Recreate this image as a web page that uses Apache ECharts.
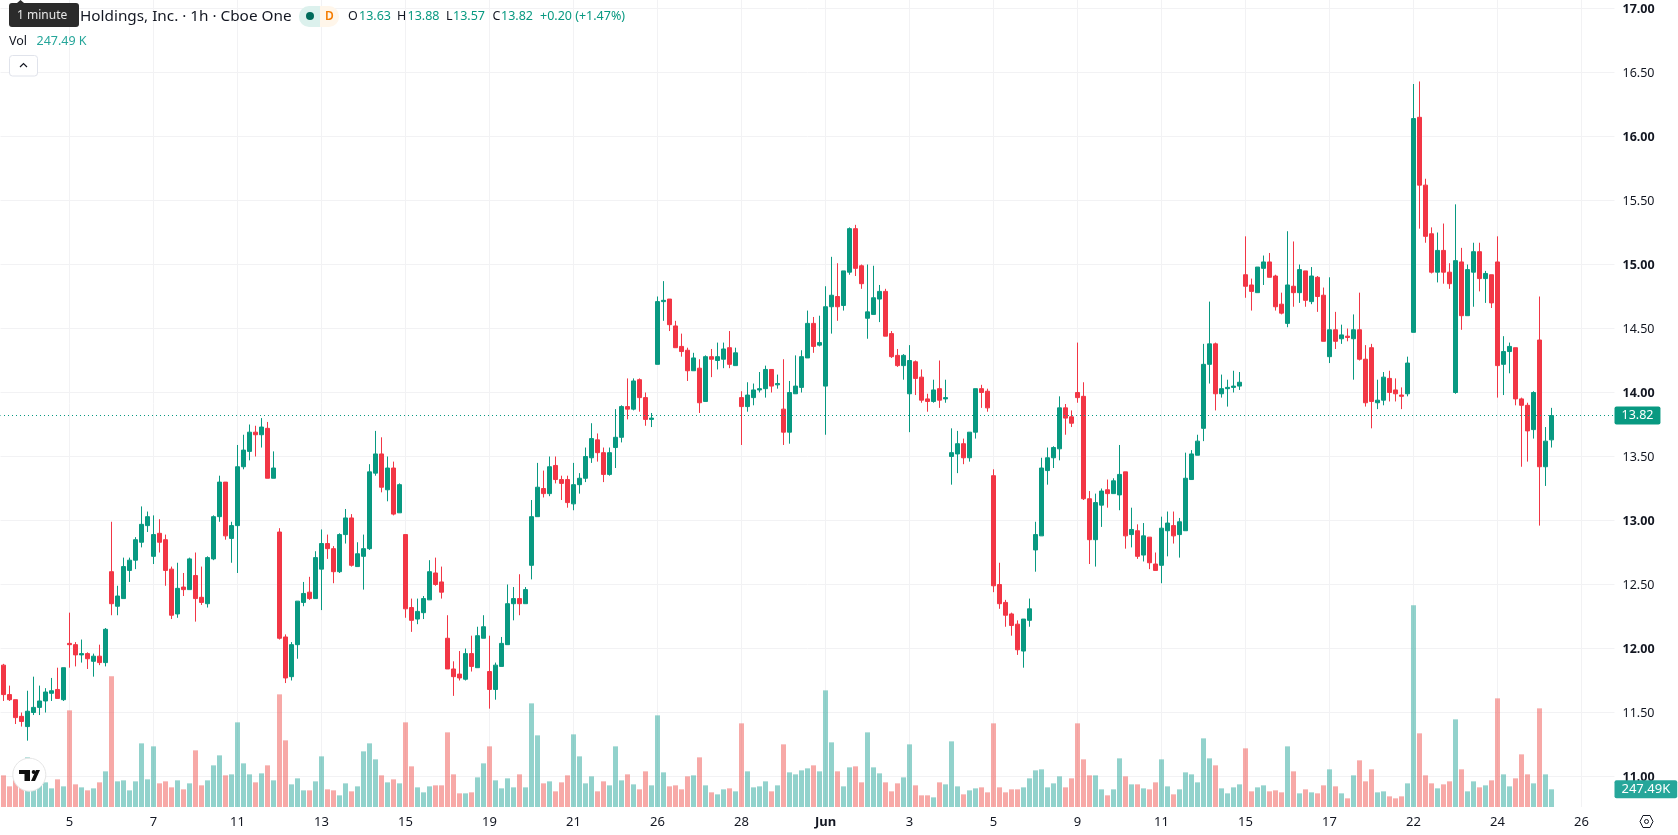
<!DOCTYPE html>
<html>
<head>
<meta charset="utf-8">
<title>Holdings, Inc. 1h</title>
<style>
  html, body { margin: 0; padding: 0; background: #fff; }
  #chart { width: 1678px; height: 835px; }
</style>
<script src="https://cdn.jsdelivr.net/npm/echarts@6/dist/echarts.min.js"></script>
</head>
<body>
<div id="chart"></div>
<script>
// Hourly bars: [open, close, low, high]
const candles = [
[11.87,11.64,11.59,11.88],[11.64,11.60,11.59,11.71],[11.60,11.46,11.41,11.60],[11.47,11.43,11.39,11.50],[11.39,11.51,11.28,11.67],
[11.50,11.54,11.48,11.78],[11.54,11.59,11.48,11.71],[11.59,11.66,11.50,11.69],[11.65,11.67,11.59,11.77],[11.68,11.61,11.61,11.85],
[11.60,11.85,11.59,11.85],[12.04,12.03,11.85,12.28],[12.03,11.95,11.86,12.05],[11.95,11.96,11.89,12.07],[11.96,11.92,11.84,11.97],
[11.90,11.94,11.78,11.96],[11.94,11.89,11.87,12.03],[11.89,12.15,11.86,12.16],[12.60,12.35,12.26,12.99],[12.33,12.41,12.26,12.49],
[12.39,12.64,12.39,12.71],[12.61,12.69,12.52,12.71],[12.69,12.85,12.62,12.87],[12.83,12.97,12.79,13.11],[12.96,13.03,12.91,13.07],
[12.72,12.89,12.66,13.04],[12.90,12.83,12.75,13.01],[12.85,12.61,12.49,12.89],[12.62,12.26,12.23,12.64],[12.27,12.47,12.24,12.67],
[12.48,12.46,12.41,12.59],[12.46,12.70,12.46,12.71],[12.57,12.39,12.21,12.75],[12.40,12.36,12.34,12.64],[12.35,12.71,12.32,12.72],
[12.70,13.03,12.69,13.04],[13.03,13.30,12.99,13.35],[13.30,12.88,12.85,13.30],[12.86,12.96,12.67,12.99],[12.96,13.42,12.59,13.59],
[13.42,13.55,13.40,13.67],[13.54,13.69,13.47,13.75],[13.69,13.67,13.50,13.74],[13.67,13.73,13.57,13.80],[13.72,13.33,13.33,13.77],
[13.33,13.41,13.33,13.54],[12.91,12.08,12.07,12.94],[12.09,11.77,11.73,12.11],[11.78,12.03,11.75,12.05],[12.03,12.37,11.92,12.37],
[12.36,12.43,12.33,12.52],[12.44,12.39,12.38,12.56],[12.39,12.71,12.39,12.76],[12.62,12.82,12.30,12.93],[12.82,12.78,12.70,12.89],
[12.78,12.60,12.51,12.80],[12.60,12.89,12.59,12.90],[12.89,13.02,12.82,13.09],[13.02,12.65,12.64,13.05],[12.64,12.74,12.64,12.83],
[12.72,12.78,12.46,12.89],[12.78,13.38,12.77,13.44],[13.37,13.52,13.35,13.70],[13.52,13.26,13.22,13.65],[13.24,13.41,13.15,13.50],
[13.41,13.05,13.04,13.46],[13.06,13.28,13.06,13.29],[12.89,12.31,12.24,12.89],[12.32,12.22,12.13,12.39],[12.23,12.29,12.19,12.39],
[12.28,12.39,12.23,12.41],[12.38,12.60,12.38,12.69],[12.59,12.50,12.49,12.71],[12.52,12.44,12.39,12.64],[12.08,11.84,11.84,12.26],
[11.84,11.78,11.63,11.90],[11.80,11.77,11.75,11.98],[11.76,11.96,11.75,12.00],[11.96,11.86,11.82,12.10],[11.85,12.10,11.85,12.17],
[12.08,12.17,12.08,12.26],[11.82,11.68,11.53,12.10],[11.68,11.87,11.60,11.89],[11.86,12.04,11.86,12.09],[12.03,12.35,12.03,12.50],
[12.35,12.39,12.22,12.48],[12.39,12.35,12.26,12.58],[12.35,12.46,12.35,12.48],[12.65,13.03,12.54,13.16],[13.03,13.26,13.03,13.45],
[13.25,13.21,13.18,13.39],[13.21,13.42,13.19,13.50],[13.43,13.32,13.29,13.50],[13.32,13.29,13.16,13.35],[13.32,13.14,13.10,13.35],
[13.13,13.28,13.08,13.45],[13.28,13.33,13.21,13.37],[13.33,13.50,13.30,13.57],[13.49,13.64,13.45,13.76],[13.63,13.53,13.46,13.68],
[13.53,13.36,13.30,13.57],[13.36,13.53,13.35,13.57],[13.57,13.65,13.41,13.87],[13.65,13.89,13.61,13.90],[13.89,13.87,13.79,14.11],
[13.87,14.09,13.86,14.11],[14.10,13.96,13.85,14.11],[13.96,13.79,13.74,14.00],[13.79,13.80,13.73,13.84],[14.22,14.71,14.22,14.75],
[14.71,14.72,14.56,14.87],[14.73,14.53,14.48,14.73],[14.52,14.35,14.35,14.56],[14.36,14.32,14.28,14.46],[14.33,14.17,14.09,14.35],
[14.17,14.27,14.17,14.31],[14.19,13.92,13.84,14.26],[13.93,14.28,13.93,14.29],[14.28,14.26,14.12,14.34],[14.25,14.28,14.18,14.39],
[14.26,14.34,14.19,14.39],[14.35,14.22,14.19,14.48],[14.21,14.31,14.21,14.35],[13.96,13.89,13.59,14.01],[13.89,13.98,13.85,14.08],
[13.96,14.02,13.90,14.07],[14.02,14.03,14.00,14.16],[14.03,14.18,13.96,14.21],[14.18,14.05,14.00,14.18],[14.06,14.07,14.03,14.14],
[13.87,13.69,13.59,14.26],[13.69,14.00,13.60,14.09],[13.99,14.05,13.99,14.29],[14.04,14.28,14.00,14.33],[14.27,14.54,14.27,14.64],
[14.54,14.36,14.31,14.59],[14.37,14.39,14.36,14.60],[14.05,14.67,13.67,14.83],[14.67,14.76,14.46,15.06],[14.75,14.67,14.56,15.01],
[14.68,14.95,14.64,14.95],[14.94,15.28,14.92,15.29],[15.28,14.97,14.91,15.31],[14.99,14.85,14.81,15.00],[14.58,14.63,14.42,15.00],
[14.61,14.74,14.61,14.99],[14.73,14.79,14.55,14.84],[14.79,14.44,14.44,14.81],[14.46,14.28,14.27,14.48],[14.29,14.21,14.20,14.34],
[14.21,14.29,14.10,14.30],[13.99,14.25,13.69,14.37],[14.24,14.11,13.98,14.25],[14.12,13.94,13.92,14.18],[13.95,13.93,13.85,13.99],
[13.93,14.02,13.92,14.10],[14.03,13.94,13.88,14.25],[13.95,13.96,13.92,14.10],[13.50,13.53,13.28,13.72],[13.52,13.60,13.37,13.70],
[13.60,13.49,13.44,13.64],[13.49,13.69,13.46,13.69],[13.69,14.03,13.64,14.03],[14.03,14.00,13.88,14.06],[14.01,13.88,13.85,14.03],
[13.35,12.49,12.44,13.40],[12.50,12.35,12.31,12.67],[12.36,12.26,12.17,12.38],[12.27,12.18,12.10,12.28],[12.19,11.99,11.95,12.22],
[11.98,12.23,11.85,12.23],[12.22,12.31,12.17,12.39],[12.77,12.89,12.60,12.99],[12.88,13.41,12.88,13.49],[13.39,13.49,13.28,13.57],
[13.49,13.57,13.41,13.58],[13.56,13.88,13.47,13.97],[13.88,13.80,13.67,13.91],[13.81,13.76,13.73,13.86],[14.00,13.96,13.92,14.39],
[13.97,13.17,13.16,14.08],[13.17,12.85,12.66,13.23],[12.85,13.14,12.64,13.21],[13.12,13.23,12.95,13.25],[13.24,13.21,13.10,13.32],
[13.21,13.31,13.21,13.33],[13.20,13.36,13.08,13.59],[13.38,12.88,12.78,13.38],[12.89,12.93,12.79,13.10],[12.92,12.72,12.70,12.97],
[12.73,12.88,12.68,12.98],[12.87,12.67,12.62,12.87],[12.66,12.61,12.61,12.75],[12.65,12.94,12.51,13.03],[12.92,12.98,12.72,13.07],
[12.96,12.88,12.82,13.07],[12.89,12.99,12.71,13.02],[12.92,13.33,12.92,13.53],[13.32,13.52,13.32,13.55],[13.51,13.62,13.51,13.67],
[13.72,14.22,13.62,14.38],[14.22,14.38,14.07,14.71],[14.38,13.99,13.86,14.39],[13.99,14.03,13.96,14.14],[14.03,14.04,13.89,14.10],
[14.04,14.05,14.00,14.17],[14.05,14.08,14.02,14.16],[14.92,14.83,14.74,15.22],[14.84,14.79,14.64,14.89],[14.78,14.98,14.78,14.98],
[14.97,15.02,14.84,15.07],[15.02,14.90,14.90,15.09],[14.91,14.67,14.64,14.92],[14.69,14.62,14.61,14.78],[14.54,14.84,14.51,15.26],
[14.83,14.78,14.67,15.18],[14.78,14.96,14.70,15.00],[14.95,14.72,14.67,14.95],[14.71,14.91,14.69,14.98],[14.90,14.75,14.63,14.91],
[14.76,14.40,14.40,14.82],[14.28,14.49,14.23,14.90],[14.49,14.40,14.34,14.63],[14.42,14.45,14.38,14.53],[14.44,14.43,14.40,14.50],
[14.42,14.49,14.10,14.61],[14.49,14.26,14.25,14.78],[14.26,13.92,13.89,14.37],[14.35,13.93,13.72,14.38],[13.92,13.94,13.87,14.10],
[13.94,14.12,13.90,14.16],[14.11,14.00,13.93,14.17],[14.02,13.99,13.93,14.11],[13.98,13.97,13.87,14.04],[13.99,14.23,13.97,14.28],
[14.47,16.14,14.47,16.41],[16.15,15.62,15.28,16.43],[15.62,15.22,15.17,15.67],[15.24,14.94,14.93,15.29],[14.94,15.11,14.86,15.25],
[15.11,14.94,14.85,15.32],[14.94,14.85,14.81,15.01],[14.00,15.03,13.99,15.47],[15.02,14.60,14.49,15.13],[14.60,14.96,14.60,15.00],
[14.94,15.10,14.67,15.17],[15.10,14.89,14.79,15.17],[14.89,14.93,14.70,14.95],[14.92,14.70,14.66,14.92],[15.02,14.21,13.96,15.22],
[14.22,14.32,13.98,14.44],[14.32,14.36,14.15,14.39],[14.35,13.95,13.90,14.35],[13.95,13.90,13.42,13.96],[13.90,13.70,13.46,13.92],
[13.71,14.00,13.64,14.01],[14.41,13.42,12.96,14.75],[13.42,13.62,13.27,13.73],[13.63,13.82,13.57,13.88]
];

// Volume per bar, in thousands of shares
const volumes = [
443,289,378,308,695,280,303,345,261,387,289,1353,317,275,233,261,345,499,1829,359,
373,233,359,891,387,849,331,359,275,373,247,331,793,303,373,583,723,443,457,1185,
611,457,345,471,583,373,1577,933,317,401,233,233,359,709,247,233,163,331,219,289,
779,891,667,443,345,387,331,1185,569,275,205,289,303,303,1045,457,191,191,205,415,
611,849,373,261,401,275,457,275,1451,1003,331,359,219,345,443,1017,709,331,429,219,
359,303,849,373,457,317,247,499,303,1283,485,289,303,247,429,443,695,303,205,177,
247,261,219,1171,499,275,289,359,219,303,877,485,457,513,541,583,499,1633,905,499,
289,555,569,345,1045,555,471,345,219,331,415,877,303,163,163,135,345,317,919,289,
177,233,261,275,205,1171,275,205,247,247,275,401,513,527,275,331,429,275,401,1171,
667,443,443,247,163,247,681,429,317,317,261,247,345,667,289,177,247,485,457,345,
961,681,583,261,191,275,317,821,219,275,303,219,233,205,849,499,191,247,205,191,
303,527,289,191,121,443,653,359,527,205,219,149,121,149,331,2823,1031,443,331,261,
317,359,1227,527,219,359,275,303,373,1521,457,289,401,737,457,331,1381,457,247.49
];

// Time scale: slot count, labelled slots and their texts
const slotCount = 269;
const tickSlots = [11,25,39,53,67,81,95,109,123,137,151,165,179,193,207,221,235,249,263];
const tickLabels = ['5','7','11','13','15','19','21','26','28','Jun','3','5','9','11','15','17','22','24','26'];

const lastPrice = 13.82;
const lastVolume = 247.49;
const legendParts = [['O','13.63'],['H','13.88'],['L','13.57'],['C','13.82']];
const legendChange = '+0.20 (+1.47%)';
const titleText = 'Holdings, Inc. · 1h · Cboe One';
const upColor = '#089981', downColor = '#f23645';
const volUp = 'rgba(38,166,154,0.5)', volDown = 'rgba(239,83,80,0.5)';
const gridColor = '#f2f2f4';
const inkColor = '#131722';
const uiFont = '"Noto Sans", sans-serif';

const slots = Array.from({ length: slotCount }, () => '');
tickSlots.forEach((s, k) => { slots[s] = tickLabels[k]; });

const font = (size, weight) => `${weight || 'normal'} ${size}px ${uiFont}`;
const label = (x, y, text, fill, size, weight) => ({
  type: 'text', x, y, z: 50, silent: true,
  style: { text, fill, font: font(size || 13, weight), textVerticalAlign: 'middle' }
});

// Header line, chips, logo and settings icon
const legendX = [[348,359],[397,407.5],[446,453],[492.5,501]];
const overlay = [
  { type: 'polygon', z: 50, shape: { points: [[17,3],[20.5,0],[24,3]] }, style: { fill: '#2b2b2b' } },
  { type: 'rect', z: 50, shape: { x: 9, y: 3, width: 70, height: 24, r: 3 }, style: { fill: '#2b2b2b' } },
  label(17, 15.5, '1 minute', '#e8e8e8', 12),
  label(80, 16.5, titleText, inkColor, 15.3),
  { type: 'rect', z: 49, shape: { x: 299, y: 6, width: 22, height: 21, r: [10,0,0,10] }, style: { fill: '#dcf1ed' } },
  { type: 'rect', z: 49, shape: { x: 320, y: 6, width: 19, height: 21, r: [0,10,10,0] }, style: { fill: '#fff6ea' } },
  { type: 'circle', z: 50, shape: { cx: 310, cy: 16, r: 4 }, style: { fill: '#006b5b' } },
  label(325, 16.5, 'D', '#f57c00', 12, '600'),
  label(540, 16.5, legendChange, upColor, 12.5),
  label(9, 41, 'Vol', inkColor, 12.5),
  label(36.5, 41, '247.49 K', '#26a69a', 12.5),
  { type: 'rect', z: 50, shape: { x: 9.5, y: 55.5, width: 28, height: 20.5, r: 3 }, style: { fill: '#fff', stroke: '#e0e3eb', lineWidth: 1 } },
  { type: 'polyline', z: 51, shape: { points: [[20,67],[23.5,63.5],[27,67]] }, style: { fill: 'none', stroke: inkColor, lineWidth: 1.2 } },
  { type: 'circle', z: 50, shape: { cx: 29.3, cy: 774.7, r: 16.5 }, style: { fill: '#fff', stroke: '#e6e6e6', lineWidth: 1 } },
  { type: 'polygon', z: 51, shape: { points: [[19,770],[30,770],[30,781],[24.5,781],[24.5,774],[19,774]] }, style: { fill: '#0f0f0f' } },
  { type: 'circle', z: 51, shape: { cx: 33.7, cy: 772, r: 2 }, style: { fill: '#0f0f0f' } },
  { type: 'polygon', z: 51, shape: { points: [[36,770],[40,770],[35,781],[31,781]] }, style: { fill: '#0f0f0f' } },
  { type: 'polygon', z: 50, shape: { points: [[1640,821.5],[1643,815.5],[1650,815.5],[1653,821.5],[1650,827.5],[1643,827.5]] }, style: { fill: 'none', stroke: inkColor, lineWidth: 1 } },
  { type: 'circle', z: 50, shape: { cx: 1646.5, cy: 821.5, r: 2 }, style: { fill: 'none', stroke: inkColor, lineWidth: 1 } }
];
legendParts.forEach(([k, v], i) => {
  overlay.push(label(legendX[i][0], 16.5, k, inkColor, 12.5));
  overlay.push(label(legendX[i][1], 16.5, v, upColor, 12.5));
});

const chart = echarts.init(document.getElementById('chart'), null, { renderer: 'canvas' });
chart.setOption({
  animation: false,
  backgroundColor: '#ffffff',
  graphic: overlay,
  grid: [
    { left: 0.5, width: 1614, top: 8.5, height: 768 },   // price pane
    { left: 0.5, width: 1614, top: 0, height: 807 }      // volume pane and day lines
  ],
  xAxis: [
    { type: 'category', gridIndex: 0, data: slots, show: false },
    {
      type: 'category', gridIndex: 1, data: slots,
      axisLine: { show: false }, axisTick: { show: false }, splitLine: { show: false },
      axisLabel: {
        interval: (i, v) => v !== '',
        hideOverlap: false, margin: 8.5, color: inkColor, fontFamily: uiFont, fontSize: 13,
        formatter: v => v === 'Jun' ? '{b|Jun}' : v,
        rich: { b: { fontWeight: 'bold', color: inkColor, fontFamily: uiFont, fontSize: 13 } }
      }
    }
  ],
  yAxis: [
    {
      type: 'value', gridIndex: 0, position: 'right', min: 11, max: 17, interval: 0.5,
      axisLine: { show: false }, axisTick: { show: false },
      splitLine: { lineStyle: { color: gridColor, width: 1 } },
      axisLabel: {
        margin: 8, color: inkColor, fontFamily: uiFont, fontSize: 12.5, padding: [2, 0, 0, 0],
        formatter: v => Number.isInteger(v) ? `{b|${v.toFixed(2)}}` : v.toFixed(2),
        rich: { b: { fontWeight: 'bold', color: inkColor, fontFamily: uiFont, fontSize: 12.5 } }
      }
    },
    { type: 'value', gridIndex: 1, min: 0, max: 11298, show: false, splitLine: { show: false } }
  ],
  series: [
    {
      name: 'dayLines', type: 'line', xAxisIndex: 1, yAxisIndex: 1, z: 0, silent: true,
      data: [], showSymbol: false,
      markLine: {
        silent: true, z: 0, symbol: 'none', animation: false, label: { show: false },
        lineStyle: { color: gridColor, width: 1, type: 'solid' },
        data: tickSlots.map(s => ({ xAxis: s }))
      }
    },
    {
      name: 'Vol', type: 'bar', xAxisIndex: 1, yAxisIndex: 1, z: 2, barWidth: 5, silent: true,
      data: volumes.map((v, i) => ({
        value: v,
        itemStyle: { color: candles[i][1] >= candles[i][0] ? volUp : volDown }
      })),
      markLine: {
        silent: true, symbol: 'none', animation: false,
        lineStyle: { color: 'rgba(0,0,0,0)', width: 1, type: 'solid' },
        label: {
          position: 'end', distance: 0, formatter: lastVolume + 'K', color: '#ffffff',
          backgroundColor: '#26a69a', padding: [2.5, 7, 2.5, 7], borderRadius: 2,
          fontFamily: uiFont, fontSize: 13
        },
        data: [{ yAxis: lastVolume }]
      }
    },
    {
      name: 'Price', type: 'candlestick', xAxisIndex: 0, yAxisIndex: 0, z: 3, barWidth: 4, silent: true,
      data: candles,
      itemStyle: { color: upColor, color0: downColor, borderColor: upColor, borderColor0: downColor, borderWidth: 1 },
      markLine: {
        silent: true, symbol: 'none', animation: false,
        lineStyle: { color: upColor, width: 1, type: [1, 3], dashOffset: 0.5 },
        label: {
          position: 'end', distance: 0, formatter: lastPrice.toFixed(2), color: '#ffffff',
          backgroundColor: upColor, padding: [2.5, 7, 2.5, 7], borderRadius: 2,
          fontFamily: uiFont, fontSize: 12.5
        },
        data: [{ yAxis: lastPrice }]
      }
    }
  ]
});
</script>
</body>
</html>
